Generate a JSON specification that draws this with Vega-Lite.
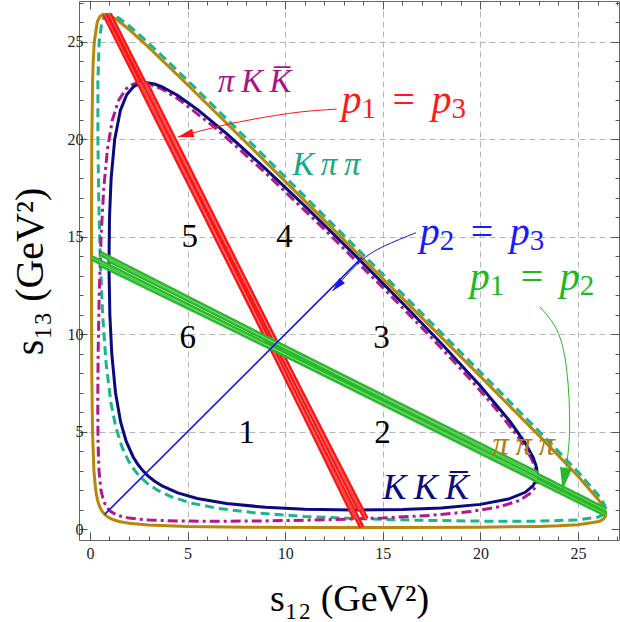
{
"$schema": "https://vega.github.io/schema/vega-lite/v6.json",
"autosize": {"type": "none"},
"padding": {"left": 79, "top": 1, "right": 1, "bottom": 82},
"width": 540,
"height": 539,
"config": {"view": {"stroke": "#666", "strokeWidth": 1}, "font": "Liberation Serif"},
"datasets": {
"curves": [
{"curve":"A","i":0,"s12":0.7564,"s13":26.4205},{"curve":"A","i":1,"s12":0.6956,"s13":26.415},{"curve":"A","i":2,"s12":0.6436,"s13":26.4},{"curve":"A","i":3,"s12":0.5131,"s13":26.3},{"curve":"A","i":4,"s12":0.4259,"s13":26.15},{"curve":"A","i":5,"s12":0.3725,"s13":26},{"curve":"A","i":6,"s12":0.2231,"s13":25},{"curve":"A","i":7,"s12":0.1673,"s13":24},{"curve":"A","i":8,"s12":0.1371,"s13":23},{"curve":"A","i":9,"s12":0.0965,"s13":20},{"curve":"A","i":10,"s12":0.0797,"s13":16},{"curve":"A","i":11,"s12":0.0795,"s13":12},{"curve":"A","i":12,"s12":0.0953,"s13":8},{"curve":"A","i":13,"s12":0.1326,"s13":5},{"curve":"A","i":14,"s12":0.2038,"s13":3},{"curve":"A","i":15,"s12":0.2948,"s13":2},{"curve":"A","i":16,"s12":0.3869,"s13":1.5},{"curve":"A","i":17,"s12":0.4798,"s13":1.2},{"curve":"A","i":18,"s12":0.5734,"s13":1.0},{"curve":"A","i":19,"s12":0.6363,"s13":0.9},{"curve":"A","i":20,"s12":0.7152,"s13":0.8},{"curve":"A","i":21,"s12":0.7564,"s13":0.7564},{"curve":"A","i":22,"s12":0.8,"s13":0.7152},{"curve":"A","i":23,"s12":0.9,"s13":0.6363},{"curve":"A","i":24,"s12":1.0,"s13":0.5734},{"curve":"A","i":25,"s12":1.2,"s13":0.4798},{"curve":"A","i":26,"s12":1.5,"s13":0.3869},{"curve":"A","i":27,"s12":2,"s13":0.2948},{"curve":"A","i":28,"s12":3,"s13":0.2038},{"curve":"A","i":29,"s12":5,"s13":0.1326},{"curve":"A","i":30,"s12":8,"s13":0.0953},{"curve":"A","i":31,"s12":12,"s13":0.0795},{"curve":"A","i":32,"s12":16,"s13":0.0797},{"curve":"A","i":33,"s12":20,"s13":0.0965},{"curve":"A","i":34,"s12":23,"s13":0.1371},{"curve":"A","i":35,"s12":24,"s13":0.1673},{"curve":"A","i":36,"s12":25,"s13":0.2231},{"curve":"A","i":37,"s12":26,"s13":0.3725},{"curve":"A","i":38,"s12":26.15,"s13":0.4259},{"curve":"A","i":39,"s12":26.3,"s13":0.5131},{"curve":"A","i":40,"s12":26.4,"s13":0.6436},{"curve":"A","i":41,"s12":26.415,"s13":0.6956},{"curve":"A","i":42,"s12":26.4205,"s13":0.7564},{"curve":"A","i":43,"s12":26.415,"s13":0.8227},{"curve":"A","i":44,"s12":26.4,"s13":0.8898},{"curve":"A","i":45,"s12":26.3,"s13":1.1202},{"curve":"A","i":46,"s12":26.15,"s13":1.3575},{"curve":"A","i":47,"s12":26,"s13":1.5608},{"curve":"A","i":48,"s12":25,"s13":2.710},{"curve":"A","i":49,"s12":24,"s13":3.766},{"curve":"A","i":50,"s12":23,"s13":4.796},{"curve":"A","i":51,"s12":20,"s13":7.837},{"curve":"A","i":52,"s12":16,"s13":11.854},{"curve":"A","i":53,"s12":12,"s13":15.854},{"curve":"A","i":54,"s12":8,"s13":19.838},{"curve":"A","i":55,"s12":5,"s13":22.801},{"curve":"A","i":56,"s12":3,"s13":24.730},{"curve":"A","i":57,"s12":2,"s13":25.639},{"curve":"A","i":58,"s12":1.5,"s13":26.046},{"curve":"A","i":59,"s12":1.2,"s13":26.254},{"curve":"A","i":60,"s12":1.0,"s13":26.360},{"curve":"A","i":61,"s12":0.9,"s13":26.397},{"curve":"A","i":62,"s12":0.8,"s13":26.418},{"curve":"A","i":63,"s12":0.7564,"s13":26.4205},
{"curve":"B","i":0,"s12":2.8502,"s13":22.9056},{"curve":"B","i":1,"s12":2.6603,"s13":22.89},{"curve":"B","i":2,"s12":2.5044,"s13":22.85},{"curve":"B","i":3,"s12":2.2297,"s13":22.7},{"curve":"B","i":4,"s12":1.8891,"s13":22.3},{"curve":"B","i":5,"s12":1.5607,"s13":21.5},{"curve":"B","i":6,"s12":1.2678,"s13":20},{"curve":"B","i":7,"s12":1.0858,"s13":18},{"curve":"B","i":8,"s12":1.0022,"s13":16},{"curve":"B","i":9,"s12":0.9754,"s13":13.5},{"curve":"B","i":10,"s12":1.0199,"s13":11},{"curve":"B","i":11,"s12":1.1183,"s13":9},{"curve":"B","i":12,"s12":1.3097,"s13":7},{"curve":"B","i":13,"s12":1.5710,"s13":5.5},{"curve":"B","i":14,"s12":1.8586,"s13":4.5},{"curve":"B","i":15,"s12":2.2164,"s13":3.7},{"curve":"B","i":16,"s12":2.4690,"s13":3.3},{"curve":"B","i":17,"s12":2.7088,"s13":3.0},{"curve":"B","i":18,"s12":2.8502,"s13":2.8502},{"curve":"B","i":19,"s12":3.0,"s13":2.7088},{"curve":"B","i":20,"s12":3.3,"s13":2.4690},{"curve":"B","i":21,"s12":3.7,"s13":2.2164},{"curve":"B","i":22,"s12":4.5,"s13":1.8586},{"curve":"B","i":23,"s12":5.5,"s13":1.5710},{"curve":"B","i":24,"s12":7,"s13":1.3097},{"curve":"B","i":25,"s12":9,"s13":1.1183},{"curve":"B","i":26,"s12":11,"s13":1.0199},{"curve":"B","i":27,"s12":13.5,"s13":0.9754},{"curve":"B","i":28,"s12":16,"s13":1.0022},{"curve":"B","i":29,"s12":18,"s13":1.0858},{"curve":"B","i":30,"s12":20,"s13":1.2678},{"curve":"B","i":31,"s12":21.5,"s13":1.5607},{"curve":"B","i":32,"s12":22.3,"s13":1.8891},{"curve":"B","i":33,"s12":22.7,"s13":2.2297},{"curve":"B","i":34,"s12":22.85,"s13":2.5044},{"curve":"B","i":35,"s12":22.89,"s13":2.6603},{"curve":"B","i":36,"s12":22.9056,"s13":2.8502},{"curve":"B","i":37,"s12":22.89,"s13":3.0556},{"curve":"B","i":38,"s12":22.85,"s13":3.2515},{"curve":"B","i":39,"s12":22.7,"s13":3.6762},{"curve":"B","i":40,"s12":22.3,"s13":4.4168},{"curve":"B","i":41,"s12":21.5,"s13":5.5452},{"curve":"B","i":42,"s12":20,"s13":7.3381},{"curve":"B","i":43,"s12":18,"s13":9.5201},{"curve":"B","i":44,"s12":16,"s13":11.6037},{"curve":"B","i":45,"s12":13.5,"s13":14.1306},{"curve":"B","i":46,"s12":11,"s13":16.5861},{"curve":"B","i":47,"s12":9,"s13":18.4877},{"curve":"B","i":48,"s12":7,"s13":20.2963},{"curve":"B","i":49,"s12":5.5,"s13":21.535},{"curve":"B","i":50,"s12":4.5,"s13":22.2474},{"curve":"B","i":51,"s12":3.7,"s13":22.6896},{"curve":"B","i":52,"s12":3.3,"s13":22.837},{"curve":"B","i":53,"s12":3.0,"s13":22.8972},{"curve":"B","i":54,"s12":2.8502,"s13":22.9056},
{"curve":"C","i":0,"s12":0.9867,"s13":26.4205},{"curve":"C","i":1,"s12":0.9455,"s13":26.418},{"curve":"C","i":2,"s12":0.9048,"s13":26.41},{"curve":"C","i":3,"s12":0.7939,"s13":26.35},{"curve":"C","i":4,"s12":0.6843,"s13":26.2},{"curve":"C","i":5,"s12":0.6099,"s13":26},{"curve":"C","i":6,"s12":0.4713,"s13":25},{"curve":"C","i":7,"s12":0.4077,"s13":23},{"curve":"C","i":8,"s12":0.4083,"s13":20},{"curve":"C","i":9,"s12":0.4491,"s13":17},{"curve":"C","i":10,"s12":0.5241,"s13":14},{"curve":"C","i":11,"s12":0.6497,"s13":11},{"curve":"C","i":12,"s12":0.8278,"s13":8.5},{"curve":"C","i":13,"s12":1.0721,"s13":6.5},{"curve":"C","i":14,"s12":1.3335,"s13":5.2},{"curve":"C","i":15,"s12":1.6459,"s13":4.2},{"curve":"C","i":16,"s12":1.9720,"s13":3.5},{"curve":"C","i":17,"s12":2.2989,"s13":3},{"curve":"C","i":18,"s12":2.6259,"s13":2.6259},{"curve":"C","i":19,"s12":3,"s13":2.2989},{"curve":"C","i":20,"s12":3.5,"s13":1.9720},{"curve":"C","i":21,"s12":4.2,"s13":1.6459},{"curve":"C","i":22,"s12":5.2,"s13":1.3335},{"curve":"C","i":23,"s12":6.5,"s13":1.0721},{"curve":"C","i":24,"s12":8.5,"s13":0.8278},{"curve":"C","i":25,"s12":11,"s13":0.6497},{"curve":"C","i":26,"s12":14,"s13":0.5241},{"curve":"C","i":27,"s12":17,"s13":0.4491},{"curve":"C","i":28,"s12":20,"s13":0.4083},{"curve":"C","i":29,"s12":23,"s13":0.4077},{"curve":"C","i":30,"s12":25,"s13":0.4713},{"curve":"C","i":31,"s12":26,"s13":0.6099},{"curve":"C","i":32,"s12":26.2,"s13":0.6843},{"curve":"C","i":33,"s12":26.35,"s13":0.7939},{"curve":"C","i":34,"s12":26.41,"s13":0.9048},{"curve":"C","i":35,"s12":26.418,"s13":0.9455},{"curve":"C","i":36,"s12":26.4205,"s13":0.9867},{"curve":"C","i":37,"s12":26.418,"s13":1.0304},{"curve":"C","i":38,"s12":26.41,"s13":1.0792},{"curve":"C","i":39,"s12":26.35,"s13":1.2506},{"curve":"C","i":40,"s12":26.2,"s13":1.5116},{"curve":"C","i":41,"s12":26,"s13":1.7878},{"curve":"C","i":42,"s12":25,"s13":2.9360},{"curve":"C","i":43,"s12":23,"s13":5.0213},{"curve":"C","i":44,"s12":20,"s13":8.0615},{"curve":"C","i":45,"s12":17,"s13":11.0759},{"curve":"C","i":46,"s12":14,"s13":14.0795},{"curve":"C","i":47,"s12":11,"s13":17.0758},{"curve":"C","i":48,"s12":8.5,"s13":19.5646},{"curve":"C","i":49,"s12":6.5,"s13":21.5464},{"curve":"C","i":50,"s12":5.2,"s13":22.8252},{"curve":"C","i":51,"s12":4.2,"s13":23.7985},{"curve":"C","i":52,"s12":3.5,"s13":24.4701},{"curve":"C","i":53,"s12":3,"s13":24.9407},{"curve":"C","i":54,"s12":2.6259,"s13":25.2843},{"curve":"C","i":55,"s12":2,"s13":25.8300},{"curve":"C","i":56,"s12":1.5,"s13":26.2079},{"curve":"C","i":57,"s12":1.2,"s13":26.372},{"curve":"C","i":58,"s12":1.05,"s13":26.4155},{"curve":"C","i":59,"s12":0.9867,"s13":26.4205},
{"curve":"D","i":0,"s12":2.6029,"s13":22.9056},{"curve":"D","i":1,"s12":2.4857,"s13":22.9},{"curve":"D","i":2,"s12":2.3596,"s13":22.88},{"curve":"D","i":3,"s12":2.1337,"s13":22.8},{"curve":"D","i":4,"s12":1.8588,"s13":22.6},{"curve":"D","i":5,"s12":1.4675,"s13":22},{"curve":"D","i":6,"s12":1.1500,"s13":21},{"curve":"D","i":7,"s12":0.8968,"s13":19.5},{"curve":"D","i":8,"s12":0.7081,"s13":17.5},{"curve":"D","i":9,"s12":0.5710,"s13":15},{"curve":"D","i":10,"s12":0.4743,"s13":12},{"curve":"D","i":11,"s12":0.4197,"s13":9},{"curve":"D","i":12,"s12":0.4012,"s13":6.5},{"curve":"D","i":13,"s12":0.4138,"s13":4.5},{"curve":"D","i":14,"s12":0.4645,"s13":3},{"curve":"D","i":15,"s12":0.5644,"s13":2},{"curve":"D","i":16,"s12":0.6811,"s13":1.5},{"curve":"D","i":17,"s12":0.8130,"s13":1.2},{"curve":"D","i":18,"s12":0.9174,"s13":1.05},{"curve":"D","i":19,"s12":0.9806,"s13":0.9806},{"curve":"D","i":20,"s12":1.05,"s13":0.9174},{"curve":"D","i":21,"s12":1.2,"s13":0.8130},{"curve":"D","i":22,"s12":1.5,"s13":0.6811},{"curve":"D","i":23,"s12":2,"s13":0.5644},{"curve":"D","i":24,"s12":3,"s13":0.4645},{"curve":"D","i":25,"s12":4.5,"s13":0.4138},{"curve":"D","i":26,"s12":6.5,"s13":0.4012},{"curve":"D","i":27,"s12":9,"s13":0.4197},{"curve":"D","i":28,"s12":12,"s13":0.4743},{"curve":"D","i":29,"s12":15,"s13":0.5710},{"curve":"D","i":30,"s12":17.5,"s13":0.7081},{"curve":"D","i":31,"s12":19.5,"s13":0.8968},{"curve":"D","i":32,"s12":21,"s13":1.1500},{"curve":"D","i":33,"s12":22,"s13":1.4675},{"curve":"D","i":34,"s12":22.6,"s13":1.8588},{"curve":"D","i":35,"s12":22.8,"s13":2.1337},{"curve":"D","i":36,"s12":22.88,"s13":2.3596},{"curve":"D","i":37,"s12":22.9,"s13":2.4857},{"curve":"D","i":38,"s12":22.9056,"s13":2.6029},{"curve":"D","i":39,"s12":22.9,"s13":2.7254},{"curve":"D","i":40,"s12":22.88,"s13":2.8714},{"curve":"D","i":41,"s12":22.8,"s13":3.1763},{"curve":"D","i":42,"s12":22.6,"s13":3.6488},{"curve":"D","i":43,"s12":22,"s13":4.6326},{"curve":"D","i":44,"s12":21,"s13":5.9367},{"curve":"D","i":45,"s12":19.5,"s13":7.6672},{"curve":"D","i":46,"s12":17.5,"s13":9.8196},{"curve":"D","i":47,"s12":15,"s13":12.3977},{"curve":"D","i":48,"s12":12,"s13":15.3910},{"curve":"D","i":49,"s12":9,"s13":18.2737},{"curve":"D","i":50,"s12":6.5,"s13":20.5273},{"curve":"D","i":51,"s12":4.5,"s13":22.0911},{"curve":"D","i":52,"s12":3.7,"s13":22.5739},{"curve":"D","i":53,"s12":3,"s13":22.8520},{"curve":"D","i":54,"s12":2.6028,"s13":22.9057},
{"curve":"rA","i":0,"s12":0.7564,"s13":26.4205},{"curve":"rA","i":1,"s12":13.9277,"s13":0.0779},
{"curve":"rB","i":0,"s12":2.8502,"s13":22.9056},{"curve":"rB","i":1,"s12":13.8156,"s13":0.9749},
{"curve":"rC","i":0,"s12":0.9867,"s13":26.4205},{"curve":"rC","i":1,"s12":4,"s13":20.4509},{"curve":"rC","i":2,"s12":7,"s13":14.5232},{"curve":"rC","i":3,"s12":10,"s13":8.6188},{"curve":"rC","i":4,"s12":12,"s13":4.7012},{"curve":"rC","i":5,"s12":14.147,"s13":0.5204},
{"curve":"rD","i":0,"s12":2.6028,"s13":22.9056},{"curve":"rD","i":1,"s12":5,"s13":18.0587},{"curve":"rD","i":2,"s12":8,"s13":11.9746},{"curve":"rD","i":3,"s12":11,"s13":5.8594},{"curve":"rD","i":4,"s12":13.598,"s13":0.5218},
{"curve":"gA","i":0,"s12":26.4205,"s13":0.7564},{"curve":"gA","i":1,"s12":0.0779,"s13":13.9277},
{"curve":"gB","i":0,"s12":22.9056,"s13":2.8502},{"curve":"gB","i":1,"s12":0.9749,"s13":13.8156},
{"curve":"gC","i":0,"s12":26.4205,"s13":0.9867},{"curve":"gC","i":1,"s12":20.4509,"s13":4},{"curve":"gC","i":2,"s12":14.5232,"s13":7},{"curve":"gC","i":3,"s12":8.6188,"s13":10},{"curve":"gC","i":4,"s12":4.7012,"s13":12},{"curve":"gC","i":5,"s12":0.5204,"s13":14.147},
{"curve":"gD","i":0,"s12":22.9056,"s13":2.6028},{"curve":"gD","i":1,"s12":18.0587,"s13":5},{"curve":"gD","i":2,"s12":11.9746,"s13":8},{"curve":"gD","i":3,"s12":5.8594,"s13":11},{"curve":"gD","i":4,"s12":0.5218,"s13":13.598},
{"curve":"blue","i":0,"s12":0.7564,"s13":0.7564},{"curve":"blue","i":1,"s12":13.9277,"s13":13.9277},
{"curve":"arR","i":0,"s12":12.64,"s13":21.55},{"curve":"arR","i":1,"s12":10.74,"s13":21.40},{"curve":"arR","i":2,"s12":8.69,"s13":21.09},{"curve":"arR","i":3,"s12":6.64,"s13":20.68},{"curve":"arR","i":4,"s12":4.5,"s13":20.12},
{"curve":"arB","i":0,"s12":16.70,"s13":15.21},{"curve":"arB","i":1,"s12":15.09,"s13":14.53},{"curve":"arB","i":2,"s12":13.82,"s13":13.71},{"curve":"arB","i":3,"s12":12.43,"s13":12.22},
{"curve":"arG","i":0,"s12":23.04,"s13":11.41},{"curve":"arG","i":1,"s12":23.91,"s13":10.23},{"curve":"arG","i":2,"s12":24.42,"s13":8.18},{"curve":"arG","i":3,"s12":24.57,"s13":5.09},{"curve":"arG","i":4,"s12":24.37,"s13":3.04},{"curve":"arG","i":5,"s12":24.21,"s13":2.02}
],
"heads": [
{"curve":"arR","s12":4.5,"s13":20.12},
{"curve":"arB","s12":12.43,"s13":12.22},
{"curve":"arG","s12":24.21,"s13":2.02}
],
"labels": [
{"t":"\u03c0\u2009K\u2009K\u0305","kind":"purple","s12":8.44,"s13":22.44},
{"t":"K\u2009\u03c0\u2009\u03c0","kind":"teal","s12":12.11,"s13":18.17},
{"t":"\u03c0\u2009\u03c0\u2009\u03c0","kind":"brown","s12":22.22,"s13":3.81},
{"t":"1","kind":"black","s12":8.03,"s13":4.94},
{"t":"2","kind":"black","s12":14.99,"s13":4.94},
{"t":"3","kind":"black","s12":14.94,"s13":9.81},
{"t":"4","kind":"black","s12":9.97,"s13":15.0},
{"t":"5","kind":"black","s12":5.11,"s13":15.0},
{"t":"6","kind":"black","s12":5.01,"s13":9.81}
],
"big": [
{"t":"K\u2009K\u2009K\u0305","kind":"navy","s12":17.2,"s13":1.55}
],
"plabels": [
{"kind":"red","s12":12.88,"s13":21.35,"a":"p","b":"1","d":"p","e":"3"},
{"kind":"blue","s12":16.89,"s13":14.57,"a":"p","b":"2","d":"p","e":"3"},
{"kind":"green","s12":19.45,"s13":12.27,"a":"p","b":"1","d":"p","e":"2"}
]
},
"resolve": {"axis": {"x": "independent", "y": "independent"}},
"layer": [
{
"encoding": {
"x": {"field": "s12", "type": "quantitative", "scale": {"domain": [-0.56, 27.1], "nice": false, "zero": false},
 "axis": {"orient": "bottom", "values": [0,1,2,3,4,5,6,7,8,9,10,11,12,13,14,15,16,17,18,19,20,21,22,23,24,25,26,27],
  "labelExpr": "datum.value % 5 === 0 ? datum.label : ''",
  "tickSize": {"condition": {"test": "datum.value % 5 === 0", "value": -8}, "value": -4},
  "tickColor": "#555", "tickWidth": 1,
  "grid": true, "gridColor": "#b4b4b4", "gridDash": [6, 4], "gridWidth": 1,
  "gridOpacity": {"condition": {"test": "datum.value % 5 === 0 && datum.value > 0", "value": 1}, "value": 0},
  "domain": false, "labelFont": "Liberation Serif", "labelFontSize": 16, "labelColor": "#222", "labelPadding": 13,
  "labelFlush": false, "labelOverlap": false,
  "title": "s\u2081\u2082  (GeV\u00b2)", "titleFont": "Liberation Serif", "titleFontSize": 38, "titleFontWeight": "normal", "titleColor": "#000",
  "titleY": 70, "titleBaseline": "alphabetic"}},
"y": {"field": "s13", "type": "quantitative", "scale": {"domain": [-0.56, 27.1], "nice": false, "zero": false},
 "axis": {"orient": "left", "values": [0,1,2,3,4,5,6,7,8,9,10,11,12,13,14,15,16,17,18,19,20,21,22,23,24,25,26,27],
  "labelExpr": "datum.value % 5 === 0 ? datum.label : ''",
  "tickSize": {"condition": {"test": "datum.value % 5 === 0", "value": -8}, "value": -4},
  "tickColor": "#555", "tickWidth": 1,
  "grid": true, "gridColor": "#b4b4b4", "gridDash": [6, 4], "gridWidth": 1,
  "gridOpacity": {"condition": {"test": "datum.value % 5 === 0 && datum.value > 0", "value": 1}, "value": 0},
  "domain": false, "labelFont": "Liberation Serif", "labelFontSize": 16, "labelColor": "#222", "labelPadding": 4,
  "labelFlush": false, "labelOverlap": false,
  "title": "s\u2081\u2083  (GeV\u00b2)", "titleFont": "Liberation Serif", "titleFontSize": 40, "titleFontWeight": "normal", "titleColor": "#000",
  "titleX": -37, "titleY": 270, "titleAngle": -90, "titleAlign": "center", "titleBaseline": "alphabetic"}}
},
"layer": [
{"data": {"name": "curves"}, "transform": [{"filter": "datum.curve === 'A'"}], "mark": {"type": "line", "color": "#b8860b", "strokeWidth": 3}, "encoding": {"order": {"field": "i", "type": "quantitative"}}},
{"data": {"name": "curves"}, "transform": [{"filter": "datum.curve === 'C'"}], "mark": {"type": "line", "color": "#1db38b", "strokeWidth": 3, "strokeDash": [9, 5]}, "encoding": {"order": {"field": "i", "type": "quantitative"}}},
{"data": {"name": "curves"}, "transform": [{"filter": "datum.curve === 'D'"}], "mark": {"type": "line", "color": "#b0188c", "strokeWidth": 3, "strokeDash": [10, 4, 3, 4]}, "encoding": {"order": {"field": "i", "type": "quantitative"}}},
{"data": {"name": "curves"}, "transform": [{"filter": "datum.curve === 'B'"}], "mark": {"type": "line", "color": "#0a0a80", "strokeWidth": 3}, "encoding": {"order": {"field": "i", "type": "quantitative"}}},
{"data": {"name": "curves"}, "transform": [{"filter": "datum.curve === 'rA' || datum.curve === 'rB' || datum.curve === 'rC' || datum.curve === 'rD'"}], "mark": {"type": "line", "color": "#ff1414", "strokeWidth": 5.5}, "encoding": {"detail": {"field": "curve"}, "order": {"field": "i", "type": "quantitative"}}},
{"data": {"name": "curves"}, "transform": [{"filter": "datum.curve === 'rA' || datum.curve === 'rB' || datum.curve === 'rC' || datum.curve === 'rD'"}], "mark": {"type": "line", "color": "#ff8c8c", "strokeWidth": 0.7}, "encoding": {"detail": {"field": "curve"}, "order": {"field": "i", "type": "quantitative"}}},
{"data": {"name": "curves"}, "transform": [{"filter": "datum.curve === 'gA' || datum.curve === 'gB' || datum.curve === 'gC' || datum.curve === 'gD'"}], "mark": {"type": "line", "color": "#28b828", "strokeWidth": 5.5}, "encoding": {"detail": {"field": "curve"}, "order": {"field": "i", "type": "quantitative"}}},
{"data": {"name": "curves"}, "transform": [{"filter": "datum.curve === 'gA' || datum.curve === 'gB' || datum.curve === 'gC' || datum.curve === 'gD'"}], "mark": {"type": "line", "color": "#8edc8e", "strokeWidth": 0.7}, "encoding": {"detail": {"field": "curve"}, "order": {"field": "i", "type": "quantitative"}}},
{"data": {"name": "curves"}, "transform": [{"filter": "datum.curve === 'blue'"}], "mark": {"type": "line", "color": "#1414f5", "strokeWidth": 1.6}, "encoding": {"order": {"field": "i", "type": "quantitative"}}},
{"data": {"name": "curves"}, "transform": [{"filter": "datum.curve === 'arR'"}], "mark": {"type": "line", "color": "#ff1414", "strokeWidth": 1, "interpolate": "natural"}, "encoding": {"order": {"field": "i", "type": "quantitative"}}},
{"data": {"name": "curves"}, "transform": [{"filter": "datum.curve === 'arB'"}], "mark": {"type": "line", "color": "#1414f5", "strokeWidth": 1, "interpolate": "natural"}, "encoding": {"order": {"field": "i", "type": "quantitative"}}},
{"data": {"name": "curves"}, "transform": [{"filter": "datum.curve === 'arG'"}], "mark": {"type": "line", "color": "#28b828", "strokeWidth": 1, "interpolate": "natural"}, "encoding": {"order": {"field": "i", "type": "quantitative"}}},
{"data": {"name": "heads"}, "transform": [{"filter": "datum.curve === 'arR'"}], "mark": {"type": "point", "shape": "M0,0L-0.55,2L0.55,2Z", "filled": true, "color": "#ff1414", "opacity": 1, "size": 256, "angle": 255}},
{"data": {"name": "heads"}, "transform": [{"filter": "datum.curve === 'arB'"}], "mark": {"type": "point", "shape": "M0,0L-0.55,2L0.55,2Z", "filled": true, "color": "#1414f5", "opacity": 1, "size": 196, "angle": 223}},
{"data": {"name": "heads"}, "transform": [{"filter": "datum.curve === 'arG'"}], "mark": {"type": "point", "shape": "M0,0L-0.55,2L0.55,2Z", "filled": true, "color": "#28b828", "opacity": 1, "size": 484, "angle": 189}},
{"data": {"name": "labels"}, "transform": [{"filter": "datum.kind !== 'black'"}], "mark": {"type": "text", "font": "Liberation Serif", "fontStyle": "italic", "fontSize": 33, "align": "center", "baseline": "alphabetic"},
 "encoding": {"text": {"field": "t"}, "color": {"field": "kind", "type": "nominal", "legend": null, "scale": {"domain": ["red","blue","green","purple","teal","brown","navy","black"], "range": ["#ff1a1a","#1a1aff","#20b820","#a8158a","#18a882","#b07d10","#0b0b80","#000000"]}}}},
{"data": {"name": "big"}, "mark": {"type": "text", "font": "Liberation Serif", "fontStyle": "italic", "fontSize": 36, "align": "center", "baseline": "alphabetic"},
 "encoding": {"text": {"field": "t"}, "color": {"field": "kind", "type": "nominal", "legend": null, "scale": {"domain": ["red","blue","green","purple","teal","brown","navy","black"], "range": ["#ff1a1a","#1a1aff","#20b820","#a8158a","#18a882","#b07d10","#0b0b80","#000000"]}}}},
{"data": {"name": "labels"}, "transform": [{"filter": "datum.kind === 'black'"}], "mark": {"type": "text", "font": "Liberation Serif", "fontSize": 33, "align": "center", "baseline": "middle", "color": "#000"},
 "encoding": {"text": {"field": "t"}}},
{"data": {"name": "plabels"}, "mark": {"type": "text", "font": "Liberation Serif", "fontStyle": "italic", "fontSize": 40, "align": "left", "baseline": "alphabetic", "dx": 0},
 "encoding": {"text": {"field": "a"}, "color": {"field": "kind", "type": "nominal", "legend": null, "scale": {"domain": ["red","blue","green","purple","teal","brown","navy","black"], "range": ["#ff1a1a","#1a1aff","#20b820","#a8158a","#18a882","#b07d10","#0b0b80","#000000"]}}}},
{"data": {"name": "plabels"}, "mark": {"type": "text", "font": "Liberation Serif", "fontSize": 29, "align": "left", "baseline": "alphabetic", "dx": 20, "dy": 5},
 "encoding": {"text": {"field": "b"}, "color": {"field": "kind", "type": "nominal", "legend": null, "scale": {"domain": ["red","blue","green","purple","teal","brown","navy","black"], "range": ["#ff1a1a","#1a1aff","#20b820","#a8158a","#18a882","#b07d10","#0b0b80","#000000"]}}}},
{"data": {"name": "plabels"}, "mark": {"type": "text", "font": "Liberation Serif", "fontSize": 40, "align": "left", "baseline": "alphabetic", "dx": 51, "text": "="},
 "encoding": {"color": {"field": "kind", "type": "nominal", "legend": null, "scale": {"domain": ["red","blue","green","purple","teal","brown","navy","black"], "range": ["#ff1a1a","#1a1aff","#20b820","#a8158a","#18a882","#b07d10","#0b0b80","#000000"]}}}},
{"data": {"name": "plabels"}, "mark": {"type": "text", "font": "Liberation Serif", "fontStyle": "italic", "fontSize": 40, "align": "left", "baseline": "alphabetic", "dx": 90},
 "encoding": {"text": {"field": "d"}, "color": {"field": "kind", "type": "nominal", "legend": null, "scale": {"domain": ["red","blue","green","purple","teal","brown","navy","black"], "range": ["#ff1a1a","#1a1aff","#20b820","#a8158a","#18a882","#b07d10","#0b0b80","#000000"]}}}},
{"data": {"name": "plabels"}, "mark": {"type": "text", "font": "Liberation Serif", "fontSize": 29, "align": "left", "baseline": "alphabetic", "dx": 110, "dy": 5},
 "encoding": {"text": {"field": "e"}, "color": {"field": "kind", "type": "nominal", "legend": null, "scale": {"domain": ["red","blue","green","purple","teal","brown","navy","black"], "range": ["#ff1a1a","#1a1aff","#20b820","#a8158a","#18a882","#b07d10","#0b0b80","#000000"]}}}}
]
},
{
"data": {"name": "heads"},
"mark": {"type": "point", "opacity": 0},
"encoding": {
"x": {"field": "s12", "type": "quantitative", "scale": {"domain": [-0.56, 27.1], "nice": false, "zero": false},
 "axis": {"orient": "top", "values": [0,1,2,3,4,5,6,7,8,9,10,11,12,13,14,15,16,17,18,19,20,21,22,23,24,25,26,27], "labels": false, "grid": false, "domain": false, "title": null,
  "tickSize": {"condition": {"test": "datum.value % 5 === 0", "value": -8}, "value": -4}, "tickColor": "#555", "tickWidth": 1}},
"y": {"field": "s13", "type": "quantitative", "scale": {"domain": [-0.56, 27.1], "nice": false, "zero": false},
 "axis": {"orient": "right", "values": [0,1,2,3,4,5,6,7,8,9,10,11,12,13,14,15,16,17,18,19,20,21,22,23,24,25,26,27], "labels": false, "grid": false, "domain": false, "title": null,
  "tickSize": {"condition": {"test": "datum.value % 5 === 0", "value": -8}, "value": -4}, "tickColor": "#555", "tickWidth": 1}}
}
}
]
}
